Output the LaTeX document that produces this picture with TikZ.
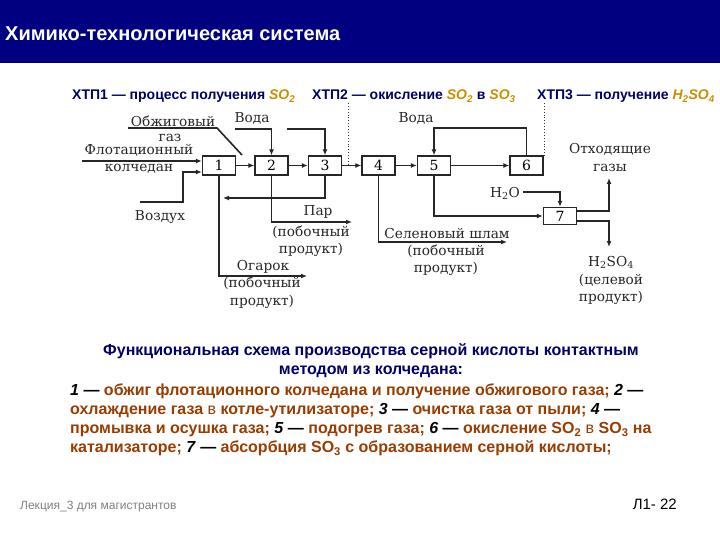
\documentclass[tikz,border=0pt]{standalone}
\usepackage{fontspec}
\setmainfont{Liberation Sans}
\newfontfamily\shemafont{DejaVu Serif}
\usetikzlibrary{arrows.meta}

\definecolor{shapka}{RGB}{0,0,128}
\definecolor{sinij}{RGB}{0,0,102}
\definecolor{formula}{RGB}{204,140,0}
\definecolor{korichn}{RGB}{153,60,0}
\newcommand{\nomer}[1]{\textcolor{black}{\textit{#1}~—}}
\newcommand{\formula}[1]{\textcolor{formula}{\textit{#1}}}

\begin{document}
\begin{tikzpicture}[x=1pt, y=-1pt,
        blok/.style={draw=black!85, line width=1.4pt, minimum width=33pt, minimum height=19pt, inner sep=0pt, font=\shemafont\fontsize{14}{14}\selectfont},
        potok/.style={-{Latex[length=6pt, width=5pt]}, line width=1.6pt, draw=black!85},
        liniya/.style={line width=1.6pt, draw=black!85},
        metka/.style={font=\shemafont\fontsize{13.7}{17.5}\selectfont, align=center, inner sep=0pt, text=black!85},
        granica/.style={dotted, line width=0.9pt, draw=black!80},
        podzag/.style={font=\bfseries\fontsize{14}{14}\selectfont, text=sinij, inner sep=0pt, anchor=base west},
        podpis/.style={font=\bfseries\fontsize{16}{19}\selectfont, inner sep=0pt}
    ]
        \useasboundingbox (0,0) rectangle (720,540);
        \fill[shapka] (0,0) rectangle (720,63);
        \node[anchor=west, text=white, font=\bfseries\fontsize{20}{20}\selectfont, inner sep=0pt] (zagolovok) at (5,34) {Химико-технологическая система};

        \node[podzag] (xtp-1) at (72,100) {ХТП1 — процесс получения \formula{SO\textsubscript{2}}};
        \node[podzag] (xtp-2) at (312,100) {ХТП2 — окисление \formula{SO\textsubscript{2}} в \formula{SO\textsubscript{3}}};
        \node[podzag] (xtp-3) at (537,100) {ХТП3 — получение \formula{H\textsubscript{2}SO\textsubscript{4}}};

        \node[blok] (blok-1) at (219,165.5) {1};
        \node[blok] (blok-2) at (271.5,165.5) {2};
        \node[blok] (blok-3) at (325,165.5) {3};
        \node[blok] (blok-4) at (378.5,165.5) {4};
        \node[blok] (blok-5) at (434,165.5) {5};
        \node[blok] (blok-6) at (526.5,165.5) {6};
        \node[blok, minimum height=17pt] (blok-7) at (560,216) {7};

        \draw[potok] (blok-1) -- (blok-2);
        \draw[potok] (blok-2) -- (blok-3);
        \draw[potok] (blok-3) -- (blok-4);
        \draw[potok] (blok-4) -- (blok-5);
        \draw[potok] (blok-5) -- (blok-6);

        \coordinate (granica-1) at (348,103);
        \coordinate (granica-2) at (544,103);
        \draw[granica] (granica-1) -- (granica-1 |- blok-3);
        \draw[granica] (granica-2) -- (granica-2 |- blok-6.north);

        \coordinate (kolchedan) at (82,161);
        \draw[potok] (kolchedan) -- (kolchedan -| blok-1.west);
        \node[metka] (kolchedan-verh) at (139,150) {Флотационный};
        \node[metka] (kolchedan-niz) at (139,169) {колчедан};

        \coordinate (gaz-nachalo) at (128,128);
        \draw[liniya] (gaz-nachalo) -- ++(89,0) -- ++(25,27);
        \node[metka] (gaz-verh) at (173,121) {Обжиговый};
        \node[metka] (gaz-niz) at (170,138) {газ};

        \coordinate (vozduh) at (140,202);
        \draw[potok] (vozduh) -- ++(43,0) |- ([yshift=-6.5pt]blok-1.west);
        \node[metka] (vozduh-metka) at (160,217) {Воздух};

        \coordinate (voda-2) at (235,129);
        \coordinate (voda-3) at (287,129);
        \draw[potok] (voda-2) -| (blok-2.north);
        \draw[potok] (voda-3) -| (blok-3.north);
        \node[metka] (voda-metka) at (252,118) {Вода};

        \draw[potok] (blok-6.north) |- ([yshift=27pt]blok-5.north) -- (blok-5.north);
        \node[metka] (voda-metka-2) at (416,118) {Вода};

        \coordinate (ogarok) at (307,276);
        \draw[potok] (blok-1.south) |- (ogarok);
        \node[metka] (ogarok-verh) at (263,267) {Огарок};
        \node[metka] (ogarok-niz) at (262,292.5) {(побочный\\продукт)};

        \coordinate (par) at (352,222);
        \draw[potok] (blok-2.south) |- (par);
        \node[metka] (par-verh) at (318,212) {Пар};
        \node[metka] (par-niz) at (311,241) {(побочный\\продукт)};

        \coordinate (vozvrat) at (223,198);
        \draw[potok] (blok-3.south) |- (vozvrat);

        \coordinate (shlam) at (507,242);
        \draw[potok] (blok-4.south) |- (shlam);
        \node[metka] (shlam-verh) at (447,233) {Селеновый шлам};
        \node[metka] (shlam-niz) at (446,260) {(побочный\\продукт)};

        \draw[potok] (blok-5.south) |- (blok-7.west);

        \coordinate (voda-7) at (523,192);
        \draw[potok] (voda-7) -| (blok-7.north);
        \node[metka] (voda-7-metka) at (505,193) {H\textsubscript{2}O};

        \coordinate (gazy) at (609,178);
        \coordinate (kislota) at (609,247);
        \draw[potok] ([yshift=5pt]blok-7.east) -| (gazy);
        \draw[potok] ([yshift=-5pt]blok-7.east) -| (kislota);
        \node[metka] (gazy-metka) at (610,157.5) {Отходящие\\газы};
        \node[metka] (kislota-metka) at (611,280.5) {H\textsubscript{2}SO\textsubscript{4}\\(целевой\\продукт)};

        \node[podpis, text=sinij, align=center] (podpis-zag) at (371,361) {Функциональная схема производства серной кислоты контактным\\методом из колчедана:};
        \node[podpis, text=korichn, align=left, anchor=north west] (opisanie) at (70,384) {\nomer{1} обжиг флотационного колчедана и получение обжигового газа; \nomer{2}\\
            охлаждение газа {\mdseries в} котле-утилизаторе; \nomer{3} очистка газа от пыли; \nomer{4}\\
            промывка и осушка газа; \nomer{5} подогрев газа; \nomer{6} окисление SO\textsubscript{2} {\mdseries в} SO\textsubscript{3} на\\
            катализаторе; \nomer{7} абсорбция SO\textsubscript{3} с образованием серной кислоты;};

        \node[anchor=base west, text=gray, font=\fontsize{12}{12}\selectfont, inner sep=0pt] (lekciya) at (20,509) {Лекция\_3 для магистрантов};
        \node[anchor=base east, font=\fontsize{15}{15}\selectfont, inner sep=0pt] (nomer-slajda) at (677,509) {Л1- 22};
    \end{tikzpicture}
\end{document}
